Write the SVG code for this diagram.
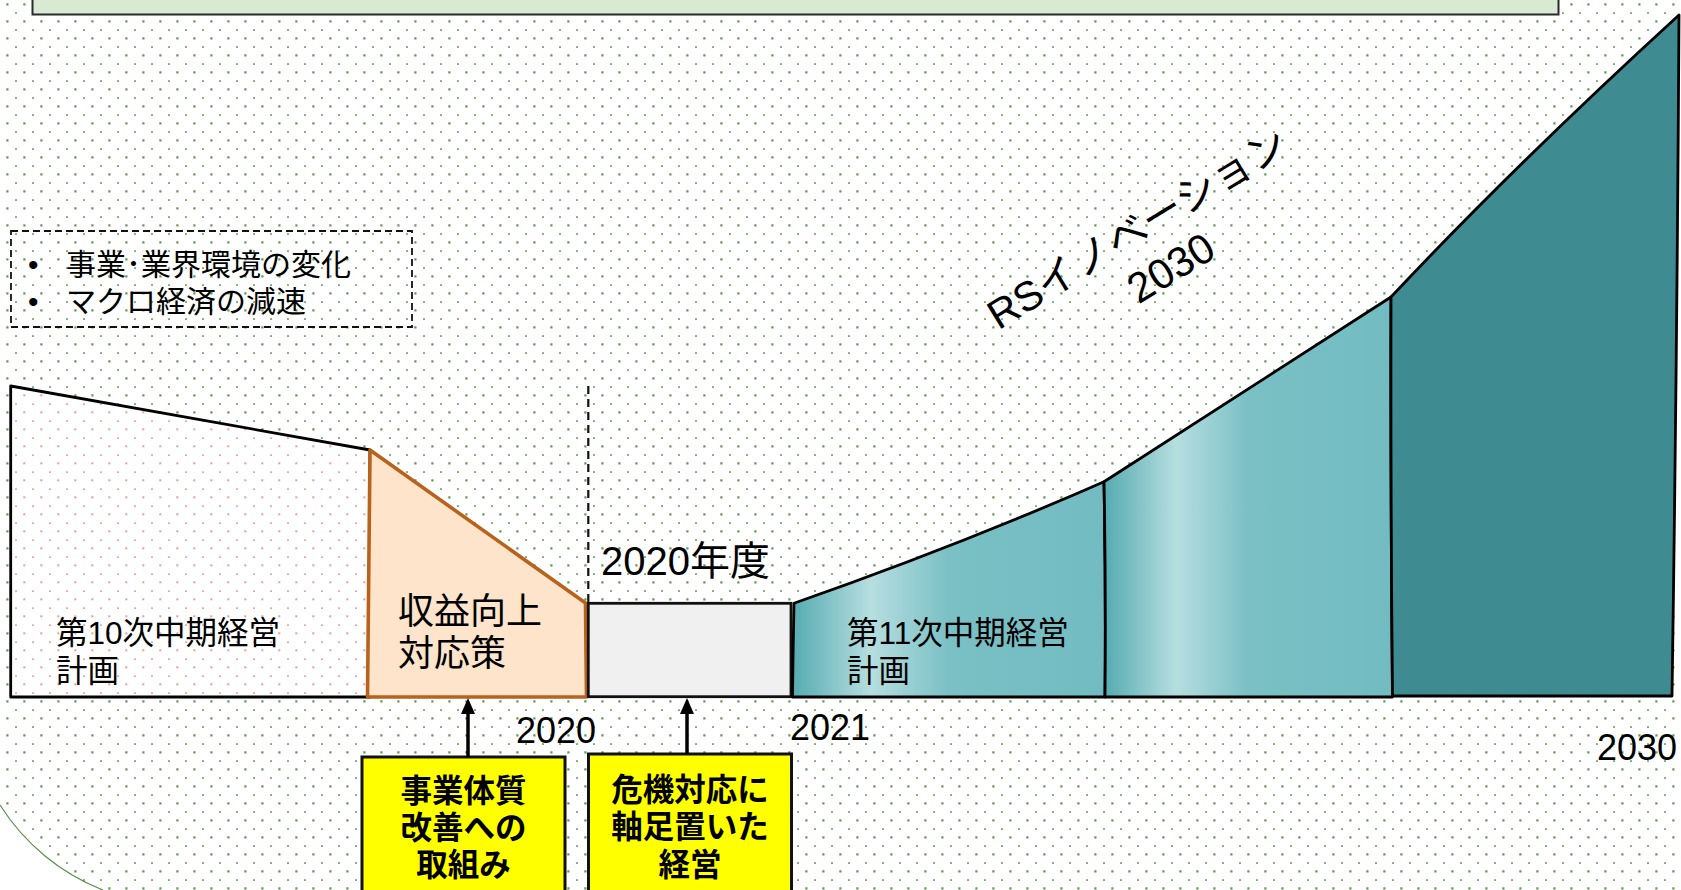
<svg xmlns="http://www.w3.org/2000/svg" width="1681" height="890" viewBox="0 0 1681 890">
<style>
  text { font-family: 'Liberation Sans', 'Noto Sans CJK JP', sans-serif; fill: #000; }
  .lbl { font-size: 31.5px; }
  .big { font-size: 36px; }
  .yr { font-size: 36px; }
  .bul { font-size: 30px; }
  .boxr { fill: #ffff00; stroke: #111; stroke-width: 3; }
  .boxt { font-size: 31.5px; font-weight: bold; text-anchor: middle; }
  .shp { stroke: #000; stroke-width: 2.8; stroke-linejoin: round; }
  .conn { stroke: #000; stroke-width: 3.5; fill: none; marker-end: url(#ah); }
</style>
<defs>
  <pattern id="dotsG" patternUnits="userSpaceOnUse" x="0" y="0" width="17" height="17">
    <rect x="6.3" y="3.3" width="2.2" height="2.2" fill="#5b984b"/>
    <rect x="15" y="12.4" width="2.2" height="1.3" fill="#4d8d3d"/>
  </pattern>
  <pattern id="dotsP" patternUnits="userSpaceOnUse" x="0" y="0" width="17" height="17">
    <rect x="6.3" y="3.3" width="2" height="2" fill="#ee9a9a"/>
    <rect x="15" y="12.4" width="2" height="1.5" fill="#ee9a9a"/>
  </pattern>
  <linearGradient id="teal" x1="0" y1="0" x2="1" y2="0">
    <stop offset="0" stop-color="#55abb1"/>
    <stop offset="0.25" stop-color="#b6dedf"/>
    <stop offset="0.5" stop-color="#7ac0c5"/>
    <stop offset="1" stop-color="#72bcc1"/>
  </linearGradient>
  <marker id="ah" markerUnits="userSpaceOnUse" markerWidth="16" markerHeight="16" viewBox="0 0 16 16" refX="2" refY="8" orient="auto">
    <path d="M0,1 L16,8 L0,15 Z" fill="#000"/>
  </marker>
</defs>

<!-- background -->
<rect x="0" y="0" width="1681" height="890" fill="#fff"/>
<rect x="0" y="0" width="1681" height="890" fill="url(#dotsG)"/>
<path d="M0,805 A214,214 0 0 0 103,890 L0,890 Z" fill="#fff"/>
<path d="M0,805 A214,214 0 0 0 103,890" fill="none" stroke="#5a8f4a" stroke-width="1.2"/>

<!-- top banner -->
<g id="banner">
  <rect x="32.5" y="-6" width="1526" height="20.5" fill="#d9ead3" stroke="#2a2a2a" stroke-width="2"/>
</g>

<!-- notes box -->
<g id="notes">
  <rect x="11" y="231" width="401" height="96" fill="none" stroke="#111" stroke-width="1.8" stroke-dasharray="7,4"/>
  <text class="bul" x="28" y="275">•</text>
  <text class="bul" x="66" y="275">事業･業界環境の変化</text>
  <text class="bul" x="28" y="312">•</text>
  <text class="bul" x="66" y="312">マクロ経済の減速</text>
</g>

<!-- 10th plan -->
<g id="plan10">
  <polygon points="10.7,386 370,450 370,697 10.7,697" fill="#fff"/>
  <polygon points="10.7,386 370,450 370,697 10.7,697" fill="url(#dotsP)"/>
  <polygon class="shp" points="10.7,386 370,450 370,697 10.7,697" fill="none"/>
  <text class="lbl" x="56" y="644">第10次中期経営</text>
  <text class="lbl" x="56" y="682">計画</text>
</g>

<!-- revenue measures -->
<g id="measures">
  <polygon points="370,450 585.5,603 586.5,697 367.5,697" fill="#fde4cb" stroke="#b8621b" stroke-width="3.6" stroke-linejoin="round"/>
  <text class="big" x="398" y="624">収益向上</text>
  <text class="big" x="398" y="666">対応策</text>
</g>

<!-- 2020 fiscal year -->
<g id="fy2020">
  <line x1="588.3" y1="386" x2="588.3" y2="603" stroke="#111" stroke-width="2.2" stroke-dasharray="8,5"/>
  <rect x="588.3" y="603.3" width="202.7" height="93.4" fill="#f0f0f0" stroke="#111" stroke-width="2.8"/>
  <text x="601" y="575" style="font-size:40px">2020年度</text>
</g>

<!-- 11th plan -->
<g id="plan11">
  <path class="shp" d="M794,603.3 Q960,545 1104,481.7 Q1106,590 1105,697 L792.5,697 Q793,650 794,603.3 Z" fill="url(#teal)"/>
  <text class="lbl" x="847" y="644">第11次中期経営</text>
  <text class="lbl" x="847" y="682">計画</text>
</g>

<g id="phase2">
  <path class="shp" d="M1104,481.7 L1391,297 Q1390.5,500 1392.5,697 L1105,697 Q1106,590 1104,481.7 Z" fill="url(#teal)"/>
</g>

<g id="phase3">
  <path class="shp" d="M1391,297 Q1515,165 1679,15 Q1677,360 1672,696 L1392.5,696 Q1390.5,500 1391,297 Z" fill="#3e8b91"/>
</g>

<!-- RS innovation title -->
<g id="rs2030" transform="translate(1137,228) rotate(-31.5)">
  <text x="0" y="15" style="font-size:41px" text-anchor="middle">RSイノベーション</text>
  <text x="8" y="66" style="font-size:42px" text-anchor="middle">2030</text>
</g>

<!-- year labels -->
<g id="years">
  <text class="yr" x="516" y="743">2020</text>
  <text class="yr" x="790" y="740">2021</text>
  <text class="yr" x="1597" y="760">2030</text>
</g>

<!-- callout boxes -->
<g id="box1">
  <rect class="boxr" x="362" y="757" width="203" height="150"/>
  <text class="boxt" x="463.5" y="802">事業体質</text>
  <text class="boxt" x="463.5" y="839">改善への</text>
  <text class="boxt" x="463.5" y="876">取組み</text>
</g>
<g id="box2">
  <rect class="boxr" x="588.5" y="754" width="203" height="150"/>
  <text class="boxt" x="690" y="801">危機対応に</text>
  <text class="boxt" x="690" y="838">軸足置いた</text>
  <text class="boxt" x="690" y="876">経営</text>
</g>

<!-- connectors -->
<g id="connectors">
  <line class="conn" x1="468" y1="757" x2="468" y2="712"/>
  <line class="conn" x1="687" y1="754" x2="687" y2="712"/>
</g>
</svg>
